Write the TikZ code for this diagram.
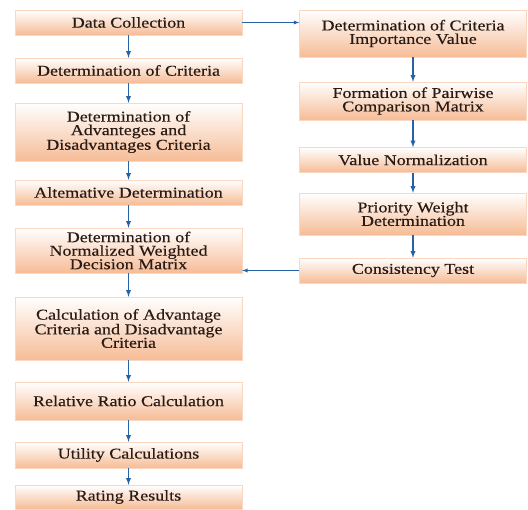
\documentclass[tikz,border=0pt]{standalone}
\usepackage{fontspec}
\setmainfont[FakeStretch=1.2, FakeBold=0.3]{Liberation Serif}
\usetikzlibrary{ arrows,
                 positioning, % For easy node-relative placements
               }
\definecolor{peach}{RGB}{246,188,150}
\definecolor{flowblue}{RGB}{38,98,168}
\definecolor{inkbrown}{RGB}{40,26,20}
\tikzstyle{stage} = [rectangle, draw=peach!60!white, thin, top color=white, bottom color=peach, text=inkbrown, align=center, font=\fontsize{15}{13.5}\selectfont, inner sep=0pt, minimum width=227pt]
\tikzstyle{flow} = [->, >=latex, draw=flowblue, line width=1.3pt]
\tikzstyle{link} = [->, >=latex, draw=flowblue, line width=0.9pt]

\begin{document}
\begin{tikzpicture}[x=1pt, y=-1pt]
  \useasboundingbox (0, 0) rectangle (528, 510);
  % left column
  \node (dc) [stage, minimum height=25pt] at (128.5, 22.5) {Data Collection};
  \node (crit) [stage, minimum height=25pt] at (128.5, 70.5) {Determination of Criteria};
  \node (adv) [stage, minimum height=58pt] at (128.5, 132) {Determination of\\Advanteges and\\Disadvantages Criteria};
  \node (alt) [stage, minimum height=25pt] at (128.5, 192.5) {Altemative Determination};
  \node (nwdm) [stage, minimum height=45pt] at (128.5, 250.5) {Determination of\\Normalized Weighted\\Decision Matrix};
  \node (calc) [stage, minimum height=63pt] at (128.5, 328.5) {Calculation of Advantage\\Criteria and Disadvantage\\Criteria};
  \node (ratio) [stage, minimum height=38pt] at (128.5, 401) {Relative Ratio Calculation};
  \node (util) [stage, minimum height=26pt] at (128.5, 455) {Utility Calculations};
  \node (rate) [stage, minimum height=24pt] at (128.5, 497) {Rating Results};
  % right column
  \node (imp) [stage, minimum height=47pt] at (413, 33.5) {Determination of Criteria\\Importance Value};
  \node (pair) [stage, minimum height=38pt] at (413, 101) {Formation of Pairwise\\Comparison Matrix};
  \node (norm) [stage, minimum height=25pt] at (413, 160) {Value Normalization};
  \node (prio) [stage, minimum height=42pt] at (413, 214) {Priority Weight\\Determination};
  \node (cons) [stage, minimum height=25pt] at (413, 270.5) {Consistency Test};

  \draw [flow] (dc) -- (crit);
  \draw [flow] (crit) -- (adv);
  \draw [flow] (adv) -- (alt);
  \draw [flow] (alt) -- (nwdm);
  \draw [flow] (nwdm) -- (calc);
  \draw [flow] (calc) -- (ratio);
  \draw [flow] (ratio) -- (util);
  \draw [flow] (util) -- (rate);

  \draw [flow] (imp) -- (pair);
  \draw [flow] (pair) -- (norm);
  \draw [flow] (norm) -- (prio);
  \draw [flow] (prio) -- (cons);

  \draw [link] (dc.east) -- (dc.east -| imp.west);
  \draw [link] (cons.west) -- (cons.west -| nwdm.east);
\end{tikzpicture}
\end{document}
